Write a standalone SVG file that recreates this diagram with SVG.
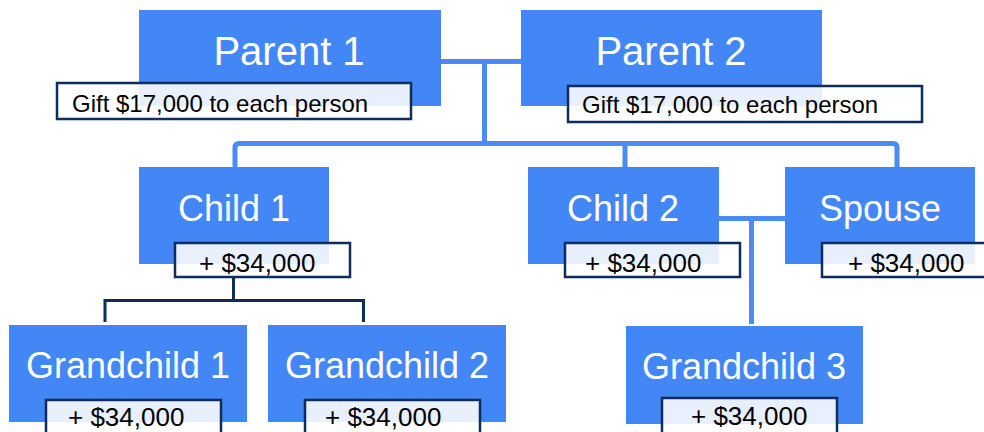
<svg xmlns="http://www.w3.org/2000/svg" width="984" height="432" viewBox="0 0 984 432">
<style>
.box{fill:#4386f5}
.lbl{fill:#ffffff;fill-opacity:0.88;stroke:#0f2d5c;stroke-width:2.5}
.t{font-family:"Liberation Sans",Arial,sans-serif;fill:#ffffff;text-anchor:middle}
.tl{font-family:"Liberation Sans",Arial,sans-serif;fill:#000000}
.bl{fill:none;stroke:#4a8bf5;stroke-width:5}
.nv{fill:none;stroke:#0f2d5c;stroke-width:3}
</style>
<rect width="984" height="432" fill="#ffffff"/>
<g id="connectors">
<path class="bl" d="M441 61.5H521M484.5 61.5V143.5M235 167V147.5Q235 143.5 239 143.5H893Q897 143.5 897 147.5V167M625 143.5V167"/>
<path class="bl" d="M719 218.5H785M751.5 218.5V324"/>
<path class="nv" d="M233.5 277V300.5H105V322M233.5 300.5H363.5V322"/>
</g>
<g id="parent1">
<rect class="box" x="139" y="10" width="302" height="96"/>
<text class="t" x="289" y="65" font-size="40">Parent 1</text>
<rect class="lbl" x="57" y="83" width="354" height="36"/>
<text class="tl" x="72" y="112" font-size="24">Gift $17,000 to each person</text>
</g>
<g id="parent2">
<rect class="box" x="521" y="10" width="301" height="96"/>
<text class="t" x="671" y="65" font-size="40">Parent 2</text>
<rect class="lbl" x="568" y="86" width="354" height="36"/>
<text class="tl" x="582" y="113" font-size="24">Gift $17,000 to each person</text>
</g>
<g id="child1">
<rect class="box" x="139" y="167" width="190" height="97"/>
<text class="t" x="234" y="221" font-size="36">Child 1</text>
<rect class="lbl" x="175" y="243" width="175" height="34"/>
<text class="tl" x="199" y="272" font-size="26">+ $34,000</text>
</g>
<g id="child2">
<rect class="box" x="528" y="167" width="191" height="97"/>
<text class="t" x="623" y="221" font-size="36">Child 2</text>
<rect class="lbl" x="565" y="243" width="175" height="34"/>
<text class="tl" x="585" y="272" font-size="26">+ $34,000</text>
</g>
<g id="spouse">
<rect class="box" x="785" y="167" width="190" height="97"/>
<text class="t" x="880" y="221" font-size="36">Spouse</text>
<rect class="lbl" x="822" y="243" width="175" height="34"/>
<text class="tl" x="848" y="272" font-size="26">+ $34,000</text>
</g>
<g id="grandchild1">
<rect class="box" x="9" y="325" width="238" height="97"/>
<text class="t" x="128" y="378" font-size="36">Grandchild 1</text>
<rect class="lbl" x="46" y="400" width="175" height="40"/>
<text class="tl" x="68" y="426" font-size="26">+ $34,000</text>
</g>
<g id="grandchild2">
<rect class="box" x="268" y="325" width="238" height="97"/>
<text class="t" x="387" y="378" font-size="36">Grandchild 2</text>
<rect class="lbl" x="305" y="400" width="175" height="40"/>
<text class="tl" x="325" y="426" font-size="26">+ $34,000</text>
</g>
<g id="grandchild3">
<rect class="box" x="626" y="326" width="237" height="98"/>
<text class="t" x="744" y="379" font-size="36">Grandchild 3</text>
<rect class="lbl" x="662" y="398" width="175" height="40"/>
<text class="tl" x="691" y="425" font-size="26">+ $34,000</text>
</g>
</svg>
